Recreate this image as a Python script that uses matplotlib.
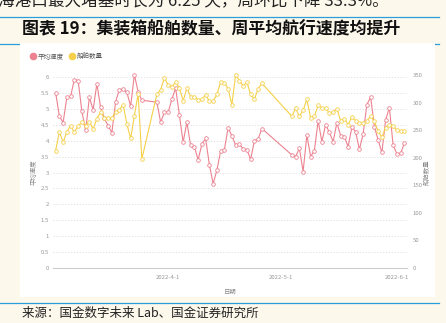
import numpy as np
import pandas as pd
import matplotlib
matplotlib.use("Agg")
import matplotlib.pyplot as plt
import matplotlib.dates as mdates
from matplotlib.lines import Line2D
from matplotlib.patches import Rectangle

plt.rcParams['font.family'] = ['Noto Sans CJK SC', 'DejaVu Sans']

# daily observations, three runs with gaps between them
dates = np.concatenate([
    pd.date_range('2022-03-02', '2022-03-25'),
    pd.date_range('2022-03-29', '2022-04-26'),
    pd.date_range('2022-05-04', '2022-06-03'),
])

speed = [
    5.51, 4.77, 4.57, 5.37, 5.40, 5.92, 5.89, 4.92, 4.32, 5.36, 4.97, 5.79,
    5.05, 4.70, 4.47, 4.25, 5.23, 5.60, 5.62, 5.52, 5.08, 6.07, 5.54, 5.27,
    5.21, 4.58, 4.89, 4.89, 5.30, 5.65, 4.81, 3.95, 4.58, 3.85, 3.81, 3.40,
    3.89, 4.07, 3.24, 2.65, 3.07, 3.68, 3.72, 4.41, 4.15, 3.86, 3.89, 3.74,
    3.72, 3.41, 4.00, 4.05, 4.38,
    3.55, 3.50, 3.76, 3.03, 4.18, 3.50, 3.69, 4.62, 3.97, 4.50, 4.26, 3.97,
    4.56, 4.16, 4.13, 3.81, 4.42, 4.28, 3.73, 4.21, 5.13, 5.37, 4.44, 4.02,
    3.63, 4.65, 5.04, 3.86, 3.59, 3.60, 3.92,
]

ships = [
    213, 247, 228, 247, 258, 246, 258, 264, 258, 265, 252, 271,
    283, 272, 272, 272, 283, 287, 296, 261, 235, 276, 316, 198,
    315, 323, 345, 332, 329, 337, 327, 303, 326, 311, 311, 305,
    306, 314, 302, 302, 315, 337, 336, 325, 296, 350, 340, 330,
    337, 315, 306, 325, 335,
    275, 290, 275, 286, 306, 272, 275, 295, 290, 290, 281, 283,
    289, 267, 271, 260, 274, 267, 263, 263, 267, 275, 266, 248,
    237, 254, 260, 257, 250, 248, 248,
]

tick_dates = ['2022-04-01', '2022-05-01', '2022-06-01']
tick_labels = ['2022-4-1', '2022-5-1', '2022-6-1']
left_ticks = np.arange(0, 6.01, 0.5)
right_ticks = np.arange(0, 351, 50)

red = '#ec8290'
yellow = '#f5d04a'
blue = '#2a9ed8'
cream = '#fdf8ec'
W, H = 446, 323


def fx(px):
    return px / W


def fy(py):
    return 1 - py / H


fig = plt.figure(figsize=(W / 100, H / 100), dpi=100)
fig.patch.set_facecolor(cream)

# page furniture: rules, white chart card
for y in (16.5, 43.5, 303):
    fig.add_artist(Line2D([0, fx(439)], [fy(y)] * 2, color=blue, lw=0.9,
                          transform=fig.transFigure, zorder=0))
fig.add_artist(Rectangle((fx(20), fy(297)), fx(415), 254 / H,
                         transform=fig.transFigure, fc='white', ec='none',
                         zorder=0.5))

fig.text(fx(-2), fy(6), '海港口最大堵塞时长为 6.25 天，周环比下降 33.3%。',
         fontsize=12, va='baseline', color='#222')
fig.text(fx(22), fy(29.5), '图表 19：集装箱船舶数量、周平均航行速度均提升',
         fontsize=12.2, fontweight='bold', va='center', color='#111')
fig.text(fx(22), fy(313), '来源：国金数字未来 Lab、国金证券研究所',
         fontsize=9, va='center', color='#222')

ax = fig.add_axes([fx(53), 55 / H, 354 / W, 198 / H])
ax.set_facecolor('none')
ax.set_zorder(1)
ax2 = ax.twinx()

ax.plot(dates, speed, color=red, lw=0.8, marker='o', ms=2.6,
        mfc='white', mew=0.6)
ax2.plot(dates, ships, color=yellow, lw=0.8, marker='o', ms=2.6,
         mfc='white', mew=0.6)

start = mdates.date2num(dates[0])
ax.set_xlim(start - 0.7, start + 93.7)
ax.set_ylim(0, 6 * 198 / 191)
ax2.set_ylim(0, 350 * 198 / 193)

ax.set_xticks(mdates.datestr2num(tick_dates))
ax.set_xticklabels(tick_labels)
ax.set_yticks(left_ticks)
ax.set_yticklabels([f'{v:g}' for v in left_ticks])
ax2.set_yticks(right_ticks)

for a in (ax, ax2):
    for s in a.spines.values():
        s.set_visible(False)
    a.tick_params(length=0, labelsize=4.3, labelcolor='#999999')
ax.tick_params(axis='x', pad=5)
ax.tick_params(axis='y', pad=3)
ax2.tick_params(axis='y', pad=4)
ax.spines['bottom'].set_visible(True)
ax.spines['bottom'].set_color('#cccccc')
ax.spines['bottom'].set_linewidth(0.8)

ax.yaxis.grid(True, ls=(0, (1.5, 2)), color='#dddddd', lw=0.6)
ax.set_axisbelow(True)

fig.text(fx(34), fy(172), '平均速度', rotation=90, fontsize=4.6,
         color='#888888', ha='center', va='center')
fig.text(fx(427), fy(172), '船舶数量', rotation=90, fontsize=4.6,
         color='#888888', ha='center', va='center')
fig.text(fx(230), fy(292), '日期', fontsize=4.6, color='#888888',
         ha='center', va='center')

handles = [
    Line2D([], [], marker='o', ls='none', color=red, ms=4.5, label='平均速度'),
    Line2D([], [], marker='o', ls='none', color=yellow, ms=4.5, label='船舶数量'),
]
ax.legend(handles=handles, loc='upper left',
          bbox_to_anchor=(fx(30.5), fy(52.5)), bbox_transform=fig.transFigure,
          ncol=2, frameon=False, fontsize=4.7, handlelength=0.8,
          handletextpad=0.3, columnspacing=0.9, borderaxespad=0,
          borderpad=0, labelcolor='#555555')

fig.savefig('out.png', dpi=100, facecolor=cream)
